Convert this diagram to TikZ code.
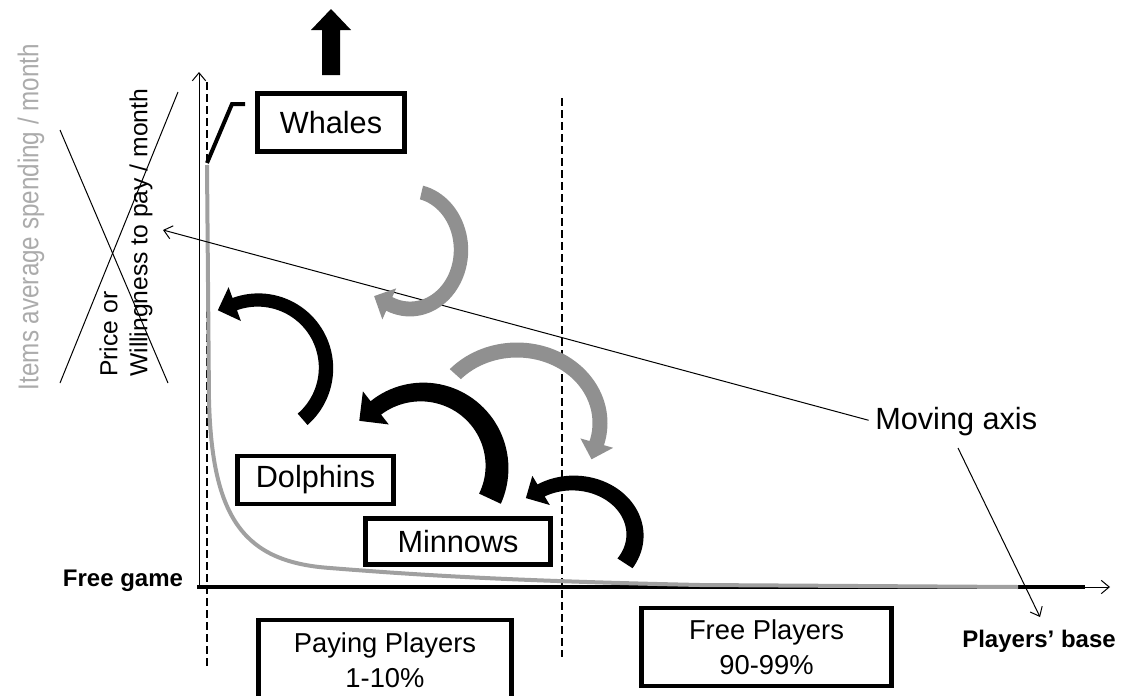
\documentclass[tikz,border=0pt]{standalone}
\usepackage{fontspec}
\setmainfont{Liberation Sans}
\usetikzlibrary{arrows.meta}
\definecolor{gcurve}{HTML}{A0A0A0}
\definecolor{garrowc}{HTML}{909090}
\definecolor{glabel}{HTML}{ABABAB}
\tikzset{
  box/.style={draw, line width=3.6pt, inner sep=0pt, align=center},
  bigtxt/.style={font=\fontsize{23}{27}\selectfont},
  smalltxt/.style={font=\fontsize{20.5}{26}\selectfont},
  boldtxt/.style={font=\bfseries\fontsize{18}{20}\selectfont},
  thinline/.style={line width=0.75pt},
  dashline/.style={line width=0.9pt, dash pattern=on 6pt off 3pt},
  openarrow/.style={-{Straight Barb[length=6pt,width=10pt]}},
}
% curved block arrow: #1 cx, #2 cy, #3 rx, #4 ry, #5 tail angle, #6 end angle,
% #7 tail width, #8 body width at head, #9 head width (head length = half of it)
\newcommand{\cArrow}[9]{%
  \pgfmathsetmacro\cAs{((#6)-(#5))/abs((#6)-(#5))}%
  \pgfmathsetmacro\cAtx{(-1)*(\cAs)*(#3)*sin(#6)}%
  \pgfmathsetmacro\cAty{(\cAs)*(#4)*cos(#6)}%
  \pgfmathsetmacro\cAn{sqrt((\cAtx)*(\cAtx)+(\cAty)*(\cAty))}%
  \pgfmathsetmacro\cAux{(\cAtx)/(\cAn)}%
  \pgfmathsetmacro\cAuy{(\cAty)/(\cAn)}%
  \fill plot[domain=#5:#6, samples=50]
      ({#1+((#3)+((#7)+((#8)-(#7))*(\x-(#5))/((#6)-(#5)))/2)*cos(\x)},
       {#2+((#4)+((#7)+((#8)-(#7))*(\x-(#5))/((#6)-(#5)))/2)*sin(\x)})
    -- ({#1+((#3)+(#9)/2)*cos(#6)}, {#2+((#4)+(#9)/2)*sin(#6)})
    -- ({#1+(#3)*cos(#6)+0.5*(#9)*(\cAux)}, {#2+(#4)*sin(#6)+0.5*(#9)*(\cAuy)})
    -- ({#1+((#3)-(#9)/2)*cos(#6)}, {#2+((#4)-(#9)/2)*sin(#6)})
    -- plot[domain=#6:#5, samples=50]
      ({#1+((#3)-((#7)+((#8)-(#7))*(\x-(#5))/((#6)-(#5)))/2)*cos(\x)},
       {#2+((#4)-((#7)+((#8)-(#7))*(\x-(#5))/((#6)-(#5)))/2)*sin(\x)})
    -- cycle;%
}
\begin{document}
\begin{tikzpicture}[x=0.75pt,y=-0.75pt]
\useasboundingbox (0,0) rectangle (1128,696);
\clip (0,0) rectangle (1128,696);

% axes
\coordinate (O) at (199,587);
\coordinate (ytip) at (199,72);
\coordinate (xstart) at (197,587);
\coordinate (xend) at (1085,587);
\coordinate (xtip) at (1110,587);
\draw[thinline, openarrow] (O) -- (ytip);
\draw[thinline, openarrow] (xstart) -- (xtip);
\draw[line width=3pt] (xstart) -- (xend);

% dashed separators
\coordinate (d1top) at (207,82);
\coordinate (d1bot) at (207,668);
\coordinate (d2top) at (562,98);
\coordinate (d2bot) at (562,657);
\draw[dashline] (d1top) -- (d1bot);
\draw[dashline] (d2top) -- (d2bot);

% gray demand curve
\draw[gcurve, line width=3pt] (207,165) -- (209,400)
  .. controls (212,520) and (245,562) .. (330,568)
  .. controls (430,576) and (520,581) .. (700,585) -- (1018,587);

% whale connector
\coordinate (wc1) at (207,163);
\coordinate (wc2) at (232,104);
\coordinate (wc3) at (245,104);
\draw[line width=3pt] (wc1) -- (wc2) -- (wc3);

% block arrow up
\fill (322,75) -- (322,30) -- (311,30) -- (331,9) -- (351,30) -- (340,30) -- (340,75) -- cycle;

% boxes
\node[box, bigtxt, minimum width=110pt, minimum height=44pt] (whales) at (331,122.5) {Whales};
\node[box, bigtxt, minimum width=117pt, minimum height=36pt] (dolphins) at (315.5,480) {Dolphins};
\node[box, bigtxt, minimum width=139pt, minimum height=35pt] (minnows) at (458,541.5) {Minnows};
\node[box, smalltxt, minimum width=190pt, minimum height=60pt] (paying) at (385,660) {Paying Players\\1-10\%};
\node[box, smalltxt, minimum width=188pt, minimum height=58.5pt] (free) at (766.5,647) {Free Players\\90-99\%};

% labels
\node[boldtxt, inner sep=0pt] (fg) at (123,581) {Free game};
\node[boldtxt, inner sep=0pt] (pb) at (1039,641) {Players’ base};
\node[rotate=90, text=glabel, inner sep=0pt, font=\fontsize{21.5}{24}\selectfont] (items) at (31,217) {\scalebox{0.845}[1]{Items average spending / month}};
\node[rotate=90, anchor=west, align=left, inner sep=0pt, font=\fontsize{18.5}{22.5}\selectfont] (price) at (126,377) {Price or\\Willingness to pay / month};

% crossing-out lines
\coordinate (x1a) at (178,92);
\coordinate (x1b) at (60,383);
\coordinate (x2a) at (60,130);
\coordinate (x2b) at (168,383);
\draw[thinline] (x1a) -- (x1b);
\draw[thinline] (x2a) -- (x2b);

% moving axis
\node[bigtxt, anchor=west, inner sep=0pt] (mov) at (875,422) {Moving axis};
\coordinate (mvt) at (163,230);
\coordinate (mvs) at (958,448);
\coordinate (mve) at (1040,617);
\draw[thinline, openarrow, shorten <=5pt] (mov.west) -- (mvt);
\draw[thinline, openarrow] (mvs) -- (mve);

% curved arrows
\begin{scope}[color=black]
  \cArrow{258}{368}{68}{68}{49}{-110}{15}{13}{36}
  \cArrow{422}{467}{75}{75}{25}{-128}{24}{17}{42}
  \cArrow{573}{535}{62}{52}{33}{-121}{18}{14}{34}
\end{scope}
\begin{scope}[color=garrowc]
  \cArrow{410}{250}{51}{59}{-77}{114}{14}{15}{34}
  \cArrow{517}{423}{83}{73}{-138}{16}{15}{15}{34}
\end{scope}
\end{tikzpicture}
\end{document}
